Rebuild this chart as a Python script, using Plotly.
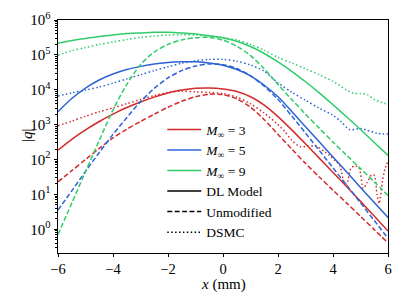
import plotly.graph_objects as go

# ---------------- data ----------------
# values are given as log10(|q|)
x_grid = [-6, -5.5, -5, -4.5, -4, -3.5, -3, -2.5, -2, -1.5, -1, -0.5, 0,
          0.5, 1, 1.5, 2, 2.5, 3, 3.5, 4, 4.5, 5, 5.5, 6]

# M = 3
m3_dl_log = [2.27, 2.58, 2.85, 3.09, 3.30, 3.49, 3.65, 3.79, 3.91, 3.99, 4.04, 4.05, 4.02,
             3.95, 3.80, 3.56, 3.23, 2.85, 2.45, 2.04, 1.63, 1.22, 0.80, 0.38, -0.05]
m3_unmod_log = [1.36, 1.68, 2.00, 2.32, 2.62, 2.87, 3.09, 3.30, 3.50, 3.67, 3.80, 3.87, 3.86,
                3.74, 3.50, 3.14, 2.72, 2.30, 1.89, 1.50, 1.12, 0.75, 0.37, -0.01, -0.39]
m3_dsmc_x = [-6, -5.5, -5, -4.5, -4, -3.5, -3, -2.5, -2, -1.5, -1, -0.5, 0, 0.5, 1, 1.5,
             2, 2.25, 2.5, 2.8, 3.1, 3.4, 3.7, 3.9, 4.1, 4.25, 4.4, 4.5, 4.65, 4.8, 4.95,
             5.1, 5.25, 5.4, 5.5, 5.6, 5.68, 5.8, 5.9, 6]
m3_dsmc_log = [2.97, 3.10, 3.24, 3.37, 3.48, 3.60, 3.72, 3.83, 3.92, 3.96, 3.94, 3.92, 3.89,
               3.79, 3.60, 3.33, 3.00, 2.80, 2.55, 2.37, 2.38, 2.38, 2.22, 2.10, 1.95, 1.82,
               1.35, 1.30, 1.75, 1.82, 1.75, 1.17, 1.35, 1.56, 1.55, 1.00, 0.74, 1.40, 1.75, 1.95]

# M = 5
m5_dl_log = [3.37, 3.75, 4.05, 4.28, 4.45, 4.58, 4.67, 4.74, 4.78, 4.80, 4.80, 4.77, 4.70,
             4.58, 4.40, 4.13, 3.80, 3.38, 2.94, 2.51, 2.07, 1.64, 1.20, 0.77, 0.34]
m5_unmod_log = [0.55, 1.10, 1.66, 2.20, 2.72, 3.20, 3.66, 4.04, 4.34, 4.55, 4.68, 4.74, 4.72,
                4.61, 4.40, 4.10, 3.72, 3.25, 2.76, 2.26, 1.76, 1.26, 0.76, 0.25, -0.26]
m5_dsmc_x = [-6, -5.5, -5, -4.5, -4, -3.5, -3, -2.5, -2, -1.5, -1, -0.5, 0, 0.5, 1, 1.5,
             2, 2.5, 3, 3.5, 4, 4.3, 4.6, 5, 5.2, 5.6, 6]
m5_dsmc_log = [3.82, 3.91, 3.99, 4.08, 4.19, 4.31, 4.43, 4.55, 4.66, 4.76, 4.83, 4.87, 4.87,
               4.82, 4.71, 4.53, 4.20, 3.93, 3.70, 3.47, 3.27, 3.08, 2.86, 2.89, 2.85, 2.75, 2.73]

# M = 9
m9_dl_log = [5.33, 5.41, 5.47, 5.53, 5.57, 5.61, 5.63, 5.65, 5.65, 5.63, 5.60, 5.55, 5.49,
             5.39, 5.24, 5.04, 4.80, 4.53, 4.23, 3.91, 3.57, 3.22, 2.86, 2.49, 2.12]
m9_unmod_log = [-0.15, 0.75, 1.65, 2.55, 3.42, 4.15, 4.72, 5.08, 5.30, 5.43, 5.49, 5.50, 5.42,
                5.25, 4.98, 4.60, 4.15, 3.72, 3.30, 2.90, 2.50, 2.12, 1.74, 1.36, 0.97]
m9_dsmc_x = [-6, -5.5, -5, -4.5, -4, -3.5, -3, -2.5, -2, -1.5, -1, -0.5, 0, 0.5, 1, 1.5,
             2, 2.5, 3, 3.5, 4, 4.5, 4.75, 5, 5.25, 5.5, 5.75, 6]
m9_dsmc_log = [4.99, 5.12, 5.21, 5.30, 5.37, 5.44, 5.50, 5.54, 5.57, 5.58, 5.57, 5.54, 5.49,
               5.43, 5.30, 5.13, 4.93, 4.77, 4.60, 4.43, 4.24, 3.99, 3.90, 3.89, 3.86, 3.72,
               3.64, 3.58]

mach_labels = ["<i>M</i><sub>∞</sub> = 3", "<i>M</i><sub>∞</sub> = 5", "<i>M</i><sub>∞</sub> = 9"]
style_labels = ["DL Model", "Unmodified", "DSMC"]
x_ticks = [-6, -4, -2, 0, 2, 4, 6]
y_ticks = [1, 10, 100, 1e3, 1e4, 1e5, 1e6]
y_ticktext = ["10<sup>0</sup>", "10<sup>1</sup>", "10<sup>2</sup>", "10<sup>3</sup>",
              "10<sup>4</sup>", "10<sup>5</sup>", "10<sup>6</sup>"]
x_title = "<i>x</i> (mm)"
y_title = "|<i>q</i>|"


def unlog(vals):
    return [10 ** v for v in vals]


# ---------------- styles ----------------
RED, BLUE, GREEN = "#d42b2b", "#2c63d6", "#2fcc68"
DASH = "5px,2.4px"
DOT = "1.5px,2.4px"
LW = 1.5
FONT = "Liberation Serif"

fig = go.Figure()

series = [
    (x_grid, m3_dl_log, RED, "solid"), (x_grid, m3_unmod_log, RED, DASH),
    (m3_dsmc_x, m3_dsmc_log, RED, DOT),
    (x_grid, m5_dl_log, BLUE, "solid"), (x_grid, m5_unmod_log, BLUE, DASH),
    (m5_dsmc_x, m5_dsmc_log, BLUE, DOT),
    (x_grid, m9_dl_log, GREEN, "solid"), (x_grid, m9_unmod_log, GREEN, DASH),
    (m9_dsmc_x, m9_dsmc_log, GREEN, DOT),
]
for xs, ys, col, dash in series:
    fig.add_trace(go.Scatter(x=xs, y=unlog(ys), mode="lines", showlegend=False,
                             line=dict(color=col, width=LW, dash=dash,
                                       shape="spline", smoothing=0.8)))

# legend entries
for lab, col in zip(mach_labels, [RED, BLUE, GREEN]):
    fig.add_trace(go.Scatter(x=[None], y=[None], mode="lines", name=lab,
                             line=dict(color=col, width=LW)))
for lab, dash in zip(style_labels, ["solid", DASH, DOT]):
    fig.add_trace(go.Scatter(x=[None], y=[None], mode="lines", name=lab,
                             line=dict(color="black", width=LW, dash=dash)))

minor_vals = [m * 10 ** e for e in range(-1, 6) for m in range(2, 10)]

axis_common = dict(showgrid=False, zeroline=False, automargin=False,
                   ticks="outside", tickwidth=1, tickcolor="black",
                   showline=True, linecolor="black", linewidth=1, mirror=True)

# the page body adds an 8px offset; the figure is sized so it fits the 407x305 window
fig.update_layout(
    width=399, height=297,
    margin=dict(l=50, r=19, t=12, b=52, autoexpand=False),
    paper_bgcolor="white", plot_bgcolor="white",
    font=dict(family=FONT, size=14, color="black"),
    showlegend=True,
    legend=dict(x=0.316, y=0.596, xanchor="left", yanchor="top", itemwidth=34,
                bgcolor="rgba(255,255,255,0)", borderwidth=0,
                font=dict(family=FONT, size=13.5), tracegroupgap=0),
    xaxis=dict(range=[-6, 6], tickvals=x_ticks, ticklen=3, tickfont=dict(size=14.5),
               **axis_common),
    yaxis=dict(type="log", range=[-0.68, 6], tickvals=y_ticks, ticktext=y_ticktext,
               ticklen=3.5, tickfont=dict(size=15),
               minor=dict(tickvals=minor_vals, ticks="outside", ticklen=2,
                          tickwidth=0.8, tickcolor="black", showgrid=False),
               **axis_common),
    annotations=[
        dict(text=x_title, xref="paper", yref="paper", x=0.5, y=-0.137,
             xanchor="center", yanchor="middle", showarrow=False, font=dict(size=15)),
        dict(text=y_title, xref="paper", yref="paper", x=-0.094, y=0.506,
             xanchor="center", yanchor="middle", showarrow=False, font=dict(size=15),
             textangle=-90),
    ],
)

fig.write_html("out.html")
